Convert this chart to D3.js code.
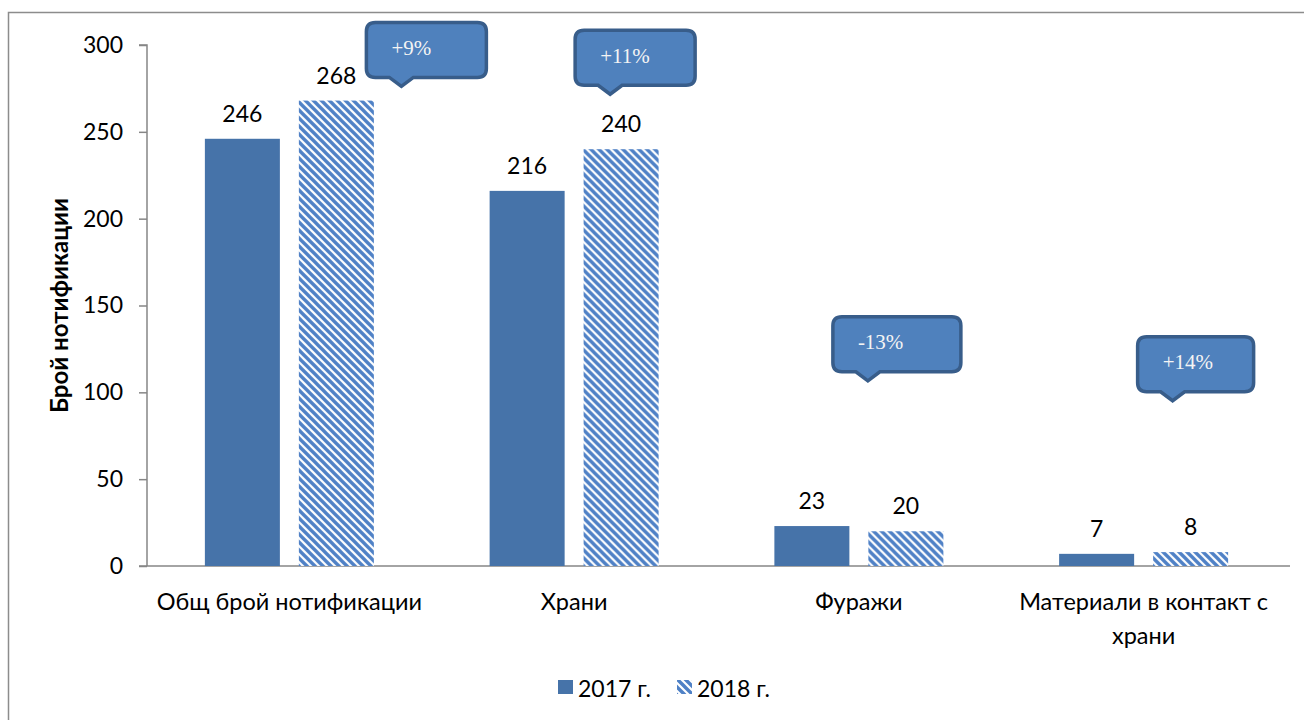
<!DOCTYPE html>
<html><head><meta charset="utf-8">
<script src="https://cdn.jsdelivr.net/npm/d3@7"></script>
<style>html,body{margin:0;padding:0;background:#fff;}svg{display:block;}</style>
</head><body>
<svg id="c" width="1304" height="720"></svg>
<script>
const categories = ["Общ брой нотификации", "Храни", "Фуражи", "Материали в контакт с храни"];
const series = ["2017 г.", "2018 г."];
const values2017 = [246, 216, 23, 7];
const values2018 = [268, 240, 20, 8];
const yTicks = [0, 50, 100, 150, 200, 250, 300];
const changeLabels = ["+9%", "+11%", "-13%", "+14%"];
const yTitle = "Брой нотификации";

const FONT = "Lato, 'Open Sans', sans-serif";
const FS = 23;
const solid = "#4673a9";
const hatchColor = "#4f81c6";

const svg = d3.select("#c");
const defs = svg.append("defs");
const pat = defs.append("pattern").attr("id", "hatch").attr("patternUnits", "userSpaceOnUse")
  .attr("width", 8).attr("height", 8);
pat.append("rect").attr("width", 8).attr("height", 8).attr("fill", "#fff");
pat.append("path").attr("d", "M-4,4 L4,12 M0,0 L8,8 M4,-4 L12,4")
  .attr("stroke", hatchColor).attr("stroke-width", 3.4);

// outer frame
svg.append("rect").attr("x", 8.5).attr("y", 12.5).attr("width", 1400).attr("height", 800)
  .attr("fill", "none").attr("stroke", "#8c8c8c").attr("stroke-width", 1.5);

const pLeft = 147, pRight = 1286, pTop = 45, pBottom = 566;
const x0 = d3.scaleBand().domain(categories).range([pLeft, pRight]).padding(0);
const groupW = 169;
const x1 = d3.scaleBand().domain(series).range([0, groupW]).paddingInner(0.202).paddingOuter(0);
const y = d3.scaleLinear().domain([0, 300]).range([pBottom, pTop]);

// y axis
const yAxis = d3.axisLeft(y).tickValues(yTicks).tickSize(8).tickPadding(16);
const yg = svg.append("g").attr("transform", `translate(${pLeft},0)`).call(yAxis);
yg.select(".domain").attr("stroke", "#868686").attr("stroke-width", 1.5).attr("d", `M-8,${pTop}H0V${pBottom}`);
yg.selectAll(".tick line").attr("stroke", "#868686").attr("stroke-width", 1.5);
yg.selectAll(".tick text").attr("font-family", FONT).attr("font-size", FS).attr("fill", "#000");

// x axis line
svg.append("line").attr("x1", pLeft - 8).attr("x2", pRight + 4).attr("y1", pBottom).attr("y2", pBottom)
  .attr("stroke", "#868686").attr("stroke-width", 1.5);

// bars
const data = categories.map((c, i) => ({cat: c, vals: [values2017[i], values2018[i]]}));
const groups = svg.append("g").selectAll("g").data(data).join("g")
  .attr("transform", d => `translate(${x0(d.cat) + (x0.bandwidth() - groupW) / 2},0)`);
groups.selectAll("rect").data(d => d.vals.map((v, j) => ({s: series[j], v, j}))).join("rect")
  .attr("x", d => x1(d.s)).attr("width", x1.bandwidth())
  .attr("y", d => y(d.v)).attr("height", d => y(0) - y(d.v))
  .attr("fill", d => d.j === 0 ? solid : "url(#hatch)");
groups.selectAll("text.val").data(d => d.vals.map((v, j) => ({s: series[j], v, j}))).join("text")
  .attr("class", "val")
  .attr("x", d => x1(d.s) + x1.bandwidth() / 2).attr("y", d => y(d.v) - 17)
  .attr("text-anchor", "middle").attr("font-family", FONT).attr("font-size", FS).attr("fill", "#000")
  .text(d => d.v);

// category labels with wrapping
function wrap(textSel, width) {
  textSel.each(function () {
    const t = d3.select(this);
    const words = t.text().split(/\s+/);
    const xx = t.attr("x");
    t.text(null);
    let line = [];
    let ts = t.append("tspan").attr("x", xx).attr("dy", 0);
    words.forEach(w => {
      line.push(w);
      ts.text(line.join(" "));
      if (ts.node().getComputedTextLength() > width && line.length > 1) {
        line.pop();
        ts.text(line.join(" "));
        line = [w];
        ts = t.append("tspan").attr("x", xx).attr("dy", "1.43em").text(w);
      }
    });
  });
}
svg.append("g").selectAll("text").data(categories).join("text")
  .attr("x", d => x0(d) + x0.bandwidth() / 2).attr("y", 610)
  .attr("text-anchor", "middle").attr("font-family", FONT).attr("font-size", 23.5).attr("fill", "#000")
  .text(d => d).call(wrap, 272);

// y title
svg.append("text").attr("transform", `translate(68,${(pTop + pBottom) / 2}) rotate(-90)`)
  .attr("text-anchor", "middle").attr("font-family", FONT).attr("font-size", 24).attr("font-weight", "bold")
  .attr("fill", "#000").text(yTitle);

// callouts (annotation placement: offset from group center, top level in axis units)
const calloutDx = [77, 1, -26, -6];
const calloutTop = [313, 308.5, 143.5, 132];
const calloutW = [120, 120, 128, 116];
const calloutH = 55, ptrOff = 35, ptrHalf = 12, ptrLen = 9, rr = 9;
function calloutPath(x, yT, w, h, px) {
  const b = yT + h;
  return `M${x + rr},${yT} H${x + w - rr} Q${x + w},${yT} ${x + w},${yT + rr} V${b - rr} Q${x + w},${b} ${x + w - rr},${b}` +
    ` H${px + ptrHalf} L${px},${b + ptrLen} L${px - ptrHalf},${b} H${x + rr} Q${x},${b} ${x},${b - rr} V${yT + rr} Q${x},${yT} ${x + rr},${yT} Z`;
}
const cg = svg.append("g").selectAll("g").data(categories).join("g");
cg.append("path").attr("d", (d, i) => {
  const cx = x0(d) + x0.bandwidth() / 2 + calloutDx[i];
  return calloutPath(cx, y(calloutTop[i]), calloutW[i], calloutH, cx + ptrOff);
}).attr("fill", "#4f81bd").attr("stroke", "#385d8a").attr("stroke-width", 3.5);
cg.append("text").attr("x", (d, i) => x0(d) + x0.bandwidth() / 2 + calloutDx[i] + 25)
  .attr("y", (d, i) => y(calloutTop[i]) + calloutH / 2 - 2).attr("dominant-baseline", "central")
  .attr("font-family", "'Liberation Serif', 'Times New Roman', serif").attr("font-size", 21)
  .attr("fill", "#f4f4f4").text((d, i) => changeLabels[i]);

// legend
const lg = svg.append("g").attr("transform", "translate(558,687)");
const items = lg.selectAll("g").data(series).join("g")
  .attr("transform", (d, i) => `translate(${i * 119},0)`);
items.append("rect").attr("x", 0).attr("y", -7).attr("width", 15).attr("height", 14)
  .attr("fill", (d, i) => i === 0 ? solid : "url(#hatch)");
items.append("text").attr("x", 20).attr("y", 1).attr("dominant-baseline", "central")
  .attr("font-family", FONT).attr("font-size", FS).attr("fill", "#000").text(d => d);
</script>
</body></html>
